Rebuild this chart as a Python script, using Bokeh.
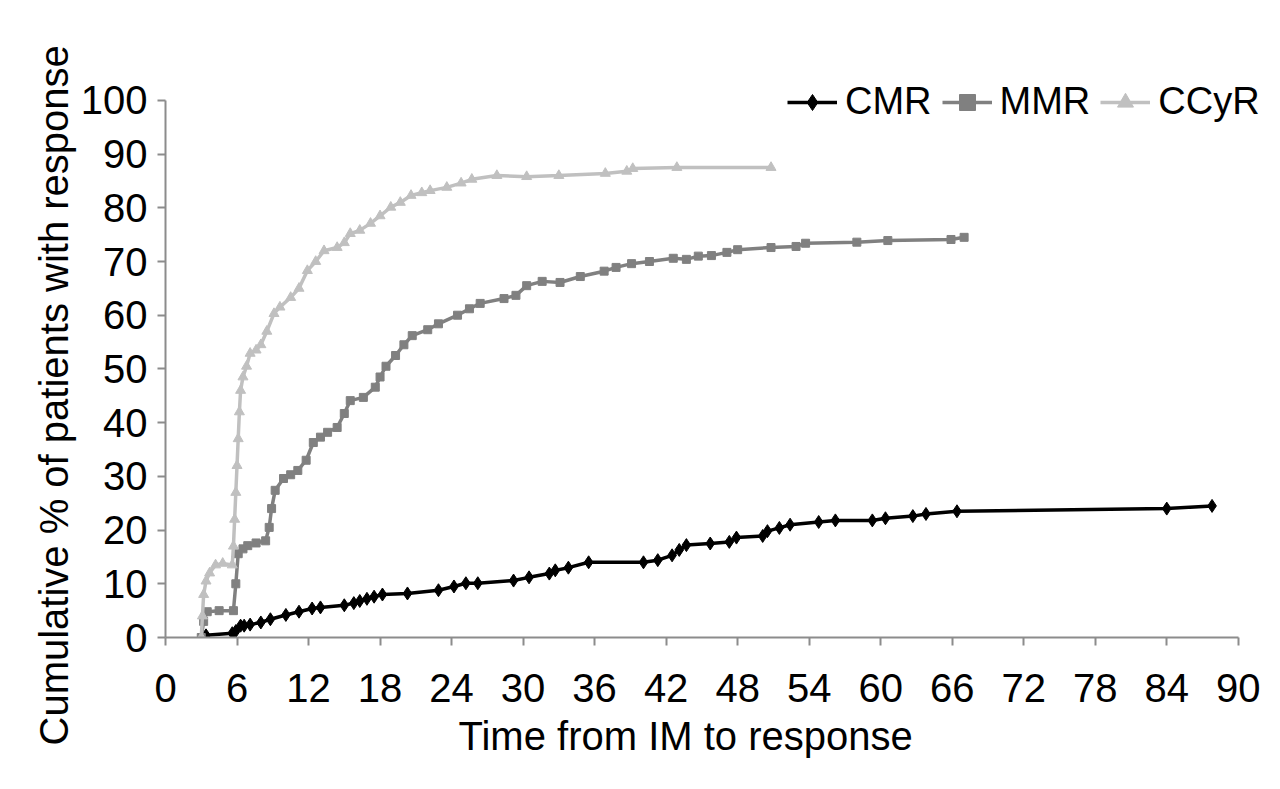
from bokeh.plotting import figure
from bokeh.models import Range1d, FixedTicker, Legend, LegendItem, Title
from bokeh.embed import file_html
from bokeh.resources import INLINE

FONT = "Liberation Sans"

# CCyR
ccyr_t = [3.0, 3.1, 3.2, 3.4, 3.7, 4.2, 4.8, 5.6, 5.7, 5.8, 5.9, 6.0, 6.1, 6.2, 6.3, 6.5, 6.8, 7.1, 7.6, 8.0,
          8.5, 9.1, 9.6, 10.5, 11.2, 11.9, 12.6, 13.3, 14.4, 15.0, 15.5, 16.3, 17.2, 18.0, 18.9, 19.7, 20.6,
          21.5, 22.2, 23.6, 24.8, 25.7, 27.8, 30.3, 33.0, 36.9, 38.7, 39.2, 42.9, 50.8]
ccyr_v = [0, 4, 8, 10.5, 12, 13.5, 13.8, 13.5, 17, 22, 27, 32, 37, 42, 46, 48.5, 50.5, 52.9, 53.5, 54.5,
          57, 60.3, 61.5, 63.3, 65, 68.3, 70, 72, 72.6, 73.5, 75.2, 75.8, 77.1, 78.5, 80.1, 81, 82.3,
          82.8, 83.2, 83.8, 84.6, 85.3, 86, 85.8, 86, 86.4, 86.8, 87.3, 87.5, 87.5]

# MMR
mmr_t = [3.0, 3.2, 3.5, 4.5, 5.7, 5.9, 6.1, 6.5, 6.9, 7.6, 8.4, 8.7, 8.9, 9.2, 9.9, 10.5, 11.1, 11.8, 12.4,
         13.0, 13.6, 14.4, 15.0, 15.5, 16.6, 17.6, 18.0, 18.5, 19.3, 20.0, 20.7, 22.0, 22.9, 24.5, 25.5,
         26.4, 28.4, 29.4, 30.3, 31.6, 33.1, 34.8, 36.8, 37.8, 39.1, 40.6, 42.6, 43.7, 44.7, 45.8, 47.1,
         48.0, 50.8, 52.9, 53.7, 58.0, 60.6, 65.9, 67.0]
mmr_v = [0, 3, 4.8, 5, 5, 10, 15.6, 16.5, 17.1, 17.6, 18, 20.5, 24, 27.4, 29.6, 30.3, 31.1, 33, 36.3,
         37.3, 38.2, 39.1, 41.7, 44.1, 44.7, 46.6, 48.5, 50.5, 52.5, 54.5, 56.2, 57.3, 58.4, 60, 61.2,
         62.2, 63.1, 63.7, 65.5, 66.3, 66.1, 67.2, 68.2, 68.9, 69.6, 70, 70.6, 70.4, 71, 71.1, 71.7,
         72.2, 72.6, 72.8, 73.4, 73.6, 73.9, 74.1, 74.5]

# CMR
cmr_t = [3.4, 5.6, 5.9, 6.3, 6.6, 7.1, 8.0, 8.8, 10.1, 11.2, 12.3, 13.0, 15.0, 15.8, 16.3, 16.9, 17.5, 18.2,
         20.3, 22.9, 24.2, 25.2, 26.2, 29.2, 30.5, 32.2, 32.7, 33.8, 35.5, 40.1, 41.3, 42.5, 43.1, 43.7,
         45.7, 47.3, 47.9, 50.1, 50.5, 51.5, 52.4, 54.8, 56.2, 59.3, 60.4, 62.7, 63.8, 66.4, 84.0, 87.8]
cmr_v = [0.4, 0.8, 1.2, 2.2, 2.2, 2.4, 2.8, 3.4, 4.2, 4.8, 5.4, 5.6, 6.0, 6.4, 6.8, 7.2, 7.6, 8.0,
         8.2, 8.8, 9.5, 10.1, 10.1, 10.6, 11.2, 11.9, 12.5, 13.0, 14.0, 14.0, 14.4, 15.3, 16.3, 17.2,
         17.5, 17.8, 18.6, 18.9, 19.8, 20.4, 21.0, 21.5, 21.8, 21.8, 22.2, 22.6, 23.0, 23.5, 24.0, 24.5]

x_ticks = [0, 6, 12, 18, 24, 30, 36, 42, 48, 54, 60, 66, 72, 78, 84, 90]
y_ticks = [0, 10, 20, 30, 40, 50, 60, 70, 80, 90, 100]

p = figure(width=1264, height=773, output_backend="svg", toolbar_location=None,
           x_range=Range1d(0, 92.2), y_range=Range1d(0, 105),
           min_border_left=165, min_border_right=0, min_border_top=73, min_border_bottom=136)
p.outline_line_color = None
p.xgrid.grid_line_color = None
p.ygrid.grid_line_color = None
p.background_fill_color = "white"

for ax, ticks in ((p.xaxis[0], x_ticks), (p.yaxis[0], y_ticks)):
    ax.ticker = FixedTicker(ticks=ticks)
    ax.axis_line_color = "#8c8c8c"
    ax.axis_line_width = 2
    ax.major_tick_line_color = "#8c8c8c"
    ax.major_tick_line_width = 2
    ax.major_tick_out = 8
    ax.major_tick_in = 0
    ax.minor_tick_line_color = None
    ax.major_label_text_font = FONT
    ax.major_label_text_font_size = "40px"
    ax.major_label_text_color = "black"

p.xaxis.bounds = (0, 90)
p.yaxis.bounds = (0, 100)
p.xaxis.major_label_standoff = 28
p.yaxis.major_label_standoff = 10

xtitle = Title(text="Time from IM to response", align="left", offset=293,
               text_font=FONT, text_font_size="40px", text_font_style="normal",
               text_color="black", standoff=15)
p.add_layout(xtitle, "below")

ytitle = Title(text="Cumulative % of patients with response", align="left", offset=-108,
               text_font=FONT, text_font_size="40px", text_font_style="normal",
               text_color="black", standoff=4)
p.add_layout(ytitle, "left")

c_l = p.line(cmr_t, cmr_v, line_color="black", line_width=3.5)
c_m = p.scatter(cmr_t, cmr_v, marker="diamond", size=13, fill_color="black", line_color="black")
m_l = p.line(mmr_t, mmr_v, line_color="#808080", line_width=3.5)
m_m = p.scatter(mmr_t, mmr_v, marker="square", size=8, fill_color="#808080", line_color="#808080")
y_l = p.line(ccyr_t, ccyr_v, line_color="#c0c0c0", line_width=3.5)
y_m = p.scatter(ccyr_t, ccyr_v, marker="triangle", size=10, fill_color="#c0c0c0", line_color="#c0c0c0")

legend = Legend(items=[LegendItem(label="CMR", renderers=[c_l, c_m]),
                       LegendItem(label="MMR", renderers=[m_l, m_m]),
                       LegendItem(label="CCyR", renderers=[y_l, y_m])],
                orientation="horizontal", location=(622, 514),
                glyph_width=50, glyph_height=40, label_standoff=8, spacing=10,
                padding=0, margin=0, border_line_color=None, background_fill_alpha=0,
                label_text_font=FONT, label_text_font_size="38px", label_text_color="black")
p.add_layout(legend, "center")

open("out.html", "w").write(file_html(p, INLINE))
